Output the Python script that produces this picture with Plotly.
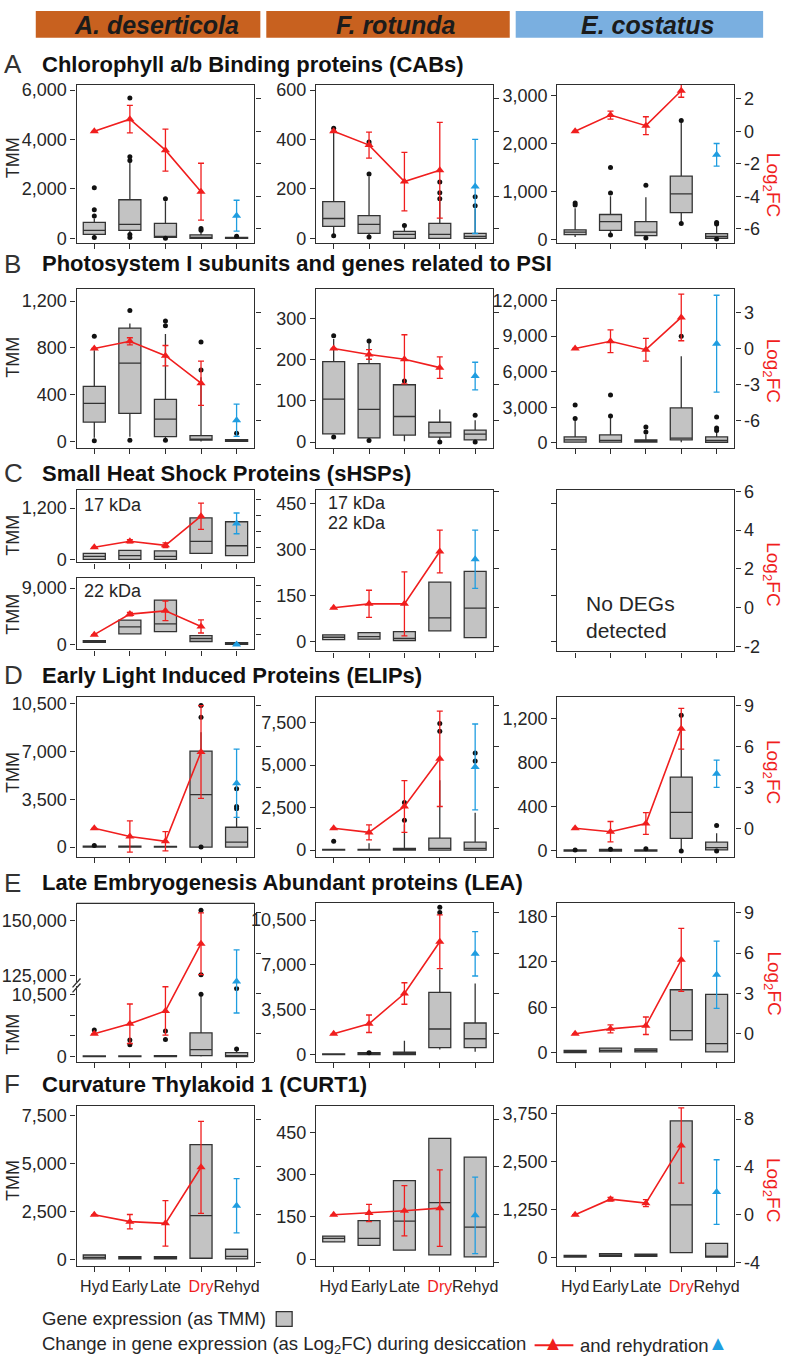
import plotly.graph_objects as go

# ---------------------------------------------------------------- data
CATEGORIES = ["Hyd", "Early", "Late", "Dry", "Rehyd"]
SPECIES = ["A. deserticola", "F. rotunda", "E. costatus"]
XPOS = [0, 1, 2, 3, 4]

# box stats per stage: [q1, median, q3, lower whisker, upper whisker]
# outliers: [[stage index...], [TMM...]]
# log2FC: Hyd, Early, Late, Dry (desiccation) and Rehyd (rehydration); err = half error bar

# A  Chlorophyll a/b binding proteins
cab_ad_box = [[160, 320, 640, 60, 800], [320, 560, 1560, 100, 3100], [40, 80, 600, 0, 1500], [0, 40, 140, 0, 300], [0, 20, 40, 0, 40]]
cab_ad_out = [[0, 0, 0, 0, 1, 1, 1, 1, 1, 2, 2, 3, 3, 4], [900, 1150, 2050, 30, 3150, 3300, 5680, 150, 30, 1600, 0, 400, 330, 80]]
cab_ad_fc = [0, 0.75, -1.16, -3.72, -5.2]
cab_ad_err = [0, 0.85, 1.3, 1.75, 0.95]

cab_fr_box = [[48, 80, 148, 15, 430], [20, 56, 92, 8, 250], [0, 16, 28, 0, 45], [0, 16, 60, 0, 150], [0, 8, 20, 0, 120]]
cab_fr_out = [[0, 0, 1, 1, 1, 1, 2, 3, 3, 3, 4, 4], [445, 10, 260, 390, 380, 5, 52, 228, 184, 160, 168, 132]]
cab_fr_fc = [0, -0.85, -3.1, -2.4, -3.4]
cab_fr_err = [0, 0.8, 1.8, 2.95, 2.9]

cab_ec_box = [[100, 150, 200, 50, 650], [190, 370, 520, 100, 900], [80, 150, 370, 20, 880], [560, 950, 1320, 340, 2450], [20, 60, 120, 0, 280]]
cab_ec_out = [[0, 0, 1, 1, 1, 2, 2, 3, 3, 4, 4, 4], [760, 720, 970, 1500, 90, 1130, 30, 2480, 330, 350, 320, 10]]
cab_ec_fc = [0, 1.0, 0.35, 2.5, -1.45]
cab_ec_err = [0, 0.25, 0.55, 0.4, 0.7]

# B  Photosystem I
psi_ad_box = [[165, 326, 470, 30, 780], [240, 670, 970, 40, 1010], [40, 190, 360, 10, 920], [10, 20, 50, 0, 550], [0, 8, 15, 0, 15]]
psi_ad_out = [[0, 0, 1, 1, 2, 2, 2, 3, 3, 4], [900, 5, 1120, 10, 1030, 990, 10, 850, 610, 70]]
psi_ad_fc = [0, 0.6, -0.6, -2.9, -6.0]
psi_ad_err = [0, 0.3, 0.85, 1.85, 1.35]

psi_fr_box = [[20, 104, 195, 20, 250], [10, 79, 190, 5, 245], [17, 62, 139, 2, 145], [12, 22, 48, 0, 79], [5, 19, 29, 0, 53]]
psi_fr_out = [[0, 0, 1, 1, 2, 3, 4, 4], [258, 12, 245, 4, 148, 0, 65, 0]]
psi_fr_fc = [0, -0.5, -0.9, -1.6, -2.3]
psi_fr_err = [0, 0.4, 2.05, 0.9, 1.15]

psi_ec_box = [[60, 250, 500, 0, 1900], [60, 210, 670, 0, 2200], [60, 150, 250, 0, 700], [250, 400, 2940, 50, 7300], [50, 200, 500, 0, 1100]]
psi_ec_out = [[0, 0, 1, 1, 2, 2, 3, 4, 4, 4], [3200, 2050, 4030, 2270, 1340, 920, 8990, 2180, 1260, 1040]]
psi_ec_fc = [0, 0.6, -0.1, 2.6, 0.4]
psi_ec_err = [0, 0.95, 0.95, 1.95, 4.05]

# C  small heat shock proteins  (q1, median, q3)
hsp17_ad_box = [[0, 70, 140], [0, 90, 210], [0, 70, 200], [140, 420, 970], [90, 320, 880]]
hsp17_ad_fc = [0, 0.75, 0.25, 3.9, 3.0]
hsp17_ad_err = [0, 0.2, 0.3, 1.65, 1.3]

hsp22_ad_box = [[350, 470, 600], [1700, 2800, 3900], [2050, 3300, 7100], [470, 950, 1400], [0, 150, 300]]
hsp22_ad_fc = [0, 2.5, 2.9, 1.0, -1.2]
hsp22_ad_err = [0, 0.2, 1.2, 0.8, 0]

hsp_fr_box = [[6, 14, 22], [8, 16, 29], [3, 10, 32], [35, 77, 193], [13, 109, 228]]
hsp_fr_fc = [0, 0.2, 0.2, 2.9, 2.5]
hsp_fr_err = [0, 0.7, 1.65, 1.1, 1.5]

# D  early light induced proteins
elip_ad_box = [[0, 30, 60, 0, 60], [0, 30, 60, 0, 60], [0, 20, 50, 0, 50], [0, 3840, 7030, 0, 8400], [0, 360, 1450, 0, 2540]]
elip_ad_out = [[0, 3, 3, 3, 4, 4, 4], [120, 10360, 9500, 0, 4270, 2970, 2800]]
elip_ad_fc = [0, -0.6, -0.95, 5.6, 3.3]
elip_ad_err = [0, 1.15, 0.7, 3.4, 2.5]

elip_fr_box = [[0, 10, 40, 0, 40], [0, 10, 40, 0, 400], [0, 30, 100, 0, 1500], [0, 100, 700, 0, 4100], [0, 100, 460, 0, 2200]]
elip_fr_out = [[0, 2, 2, 3, 3, 4, 4], [520, 2800, 1750, 7440, 6980, 5700, 5230]]
elip_fr_fc = [0, -0.3, 1.6, 5.1, 4.5]
elip_fr_err = [0, 0.55, 1.9, 3.5, 3.15]

elip_ec_box = [[0, 5, 10, 0, 10], [0, 5, 15, 0, 15], [0, 5, 10, 0, 10], [115, 350, 670, 0, 1220], [10, 30, 80, 0, 160]]
elip_ec_out = [[0, 1, 2, 3, 3, 4, 4], [10, 15, 20, 1230, 0, 230, 0]]
elip_ec_fc = [0, -0.25, 0.35, 7.3, 4.0]
elip_ec_err = [0, 0.75, 0.8, 1.5, 1.0]

# E  late embryogenesis abundant proteins
lea_ad_box = [[0, 30, 100, 0, 100], [0, 30, 100, 0, 100], [0, 50, 150, 0, 150], [170, 1170, 4000, 0, 10500], [0, 170, 670, 0, 1000]]
lea_ad_out = [[0, 1, 1, 2, 2, 3, 4, 4], [4500, 2800, 2000, 4300, 2900, 10500, 1300, 11500]]
lea_ad_out_high = [[3, 3], [154500, 125400]]
lea_ad_fc = [0, 0.75, 1.7, 6.7, 3.9]
lea_ad_err = [0, 1.47, 1.8, 2.3, 2.35]

lea_fr_box = [[0, 20, 60, 0, 60], [0, 60, 150, 0, 150], [0, 100, 200, 0, 1080], [540, 2000, 4860, 390, 6640], [540, 1240, 2470, 230, 5560]]
lea_fr_out = [[1, 3, 3], [150, 11500, 11100]]
lea_fr_fc = [0, 0.75, 3.0, 6.85, 5.95]
lea_fr_err = [0, 0.65, 0.8, 2.0, 1.65]

lea_ec_box = [[0, 1, 3], [1, 3, 6], [1, 3, 5], [17, 29, 83], [1, 12, 77]]
lea_ec_fc = [0, 0.37, 0.6, 5.5, 4.4]
lea_ec_err = [0, 0.3, 0.65, 2.35, 2.5]

# F  curvature thylakoid 1
curt_ad_box = [[20, 100, 220], [20, 70, 130], [20, 70, 130], [50, 2280, 6000], [20, 150, 520]]
curt_ad_fc = [0, -0.58, -0.72, 3.97, 0.75]
curt_ad_err = [0, 0.6, 1.9, 3.85, 2.27]

curt_fr_box = [[61, 74, 82], [49, 74, 137], [32, 135, 279], [15, 201, 430], [8, 114, 363]]
curt_fr_fc = [0, 0.15, 0.33, 0.55, -0.05]
curt_fr_err = [0, 0.72, 2.1, 3.2, 3.2]

curt_ec_box = [[5, 25, 50], [20, 50, 90], [20, 45, 80], [120, 1370, 3566], [0, 30, 360]]
curt_ec_fc = [0, 1.3, 0.97, 5.8, 1.9]
curt_ec_err = [0, 0.15, 0.3, 3.15, 2.7]

# ---------------------------------------------------------------- style
W, H = 788, 1366
FONT = "Liberation Sans, Arial, Helvetica, sans-serif"
RED = "#f01e1e"
BLUE = "#1f9de0"
AX = "#2e2e2e"
TXT = "#262626"
BOXFILL = "#c3c3c3"
ORANGE = "#c8611f"
SKY = "#7aafe0"

COLS = [(77, 256), (318, 496), (561, 739)]


def fx(p):
    return p / W


def fy(p):
    return 1 - p / H


fig = go.Figure()
layout = {}
counter = {"x": 0, "y": 0}


def new_axis(kind):
    counter[kind] += 1
    k = counter[kind]
    s = "" if k == 1 else str(k)
    return kind + s, kind + "axis" + s


def fmt(v):
    return f"{v:,}" if v >= 0 else "-" + f"{-v:,}"


XLABELS = ["Hyd", "Early", "Late", f"<span style='color:{RED}'>Dry</span>", "Rehyd"]


def xaxis_style(col, anchor, labels, mirror=True):
    x0, x1 = COLS[col]
    return dict(domain=[fx(x0), fx(x1)], range=[-0.5, 4.5], anchor=anchor,
                tickmode="array", tickvals=XPOS, ticktext=XLABELS, showticklabels=labels,
                tickangle=0, ticks="outside", ticklen=5, tickwidth=1.2, tickcolor=AX,
                showline=True, linewidth=1.4, linecolor=AX, mirror=mirror,
                showgrid=False, zeroline=False,
                tickfont=dict(family=FONT, size=16, color=TXT))


def yaxis_style(top, bot, rng, tickvals, labels, anchor):
    d = dict(domain=[fy(bot), fy(top)], range=rng, anchor=anchor,
             tickmode="array", tickvals=tickvals, ticktext=[fmt(v) for v in tickvals],
             showticklabels=labels, ticks="outside", ticklen=5, tickwidth=1.2, tickcolor=AX,
             showline=True, linewidth=1.4, linecolor=AX, showgrid=False, zeroline=False,
             tickfont=dict(family=FONT, size=18, color=TXT))
    return d


def panel(col, top, bot, lrange, lticks, rrange, rticks, xlabels=False, llabels=True):
    xref, xkey = new_axis("x")
    yref, ykey = new_axis("y")
    rref, rkey = new_axis("y")
    layout[xkey] = xaxis_style(col, yref, xlabels)
    layout[ykey] = yaxis_style(top, bot, lrange, lticks, llabels, xref)
    r = yaxis_style(top, bot, rrange, rticks, col == 2, xref)
    r.pop("domain")
    r.update(overlaying=yref, side="right")
    layout[rkey] = r
    return xref, yref, rref


def add_boxes(xref, yref, box):
    q1 = [b[0] for b in box]
    med = [b[1] for b in box]
    q3 = [b[2] for b in box]
    lo = [b[3] if len(b) > 3 else b[0] for b in box]
    hi = [b[4] if len(b) > 3 else b[2] for b in box]
    fig.add_trace(go.Box(x=XPOS, q1=q1, median=med, q3=q3, lowerfence=lo, upperfence=hi,
                         orientation="v", width=0.62, whiskerwidth=0, boxpoints=False,
                         fillcolor=BOXFILL, line=dict(color="#333333", width=1.3),
                         xaxis=xref, yaxis=yref, hoverinfo="skip"))


def add_outliers(xref, yref, out):
    fig.add_trace(go.Scatter(x=out[0], y=out[1], mode="markers",
                             marker=dict(color="#111111", size=5),
                             xaxis=xref, yaxis=yref, hoverinfo="skip"))


def add_fc(xref, rref, fc, err):
    fig.add_trace(go.Scatter(x=XPOS[:4], y=fc[:4], mode="lines+markers",
                             line=dict(color=RED, width=1.6),
                             marker=dict(symbol="triangle-up", size=8, color=RED),
                             error_y=dict(type="data", array=err[:4], color=RED, thickness=1.3, width=3),
                             xaxis=xref, yaxis=rref, hoverinfo="skip"))
    fig.add_trace(go.Scatter(x=XPOS[4:], y=fc[4:], mode="markers",
                             marker=dict(symbol="triangle-up", size=8, color=BLUE),
                             error_y=dict(type="data", array=err[4:], color=BLUE, thickness=1.3, width=3),
                             xaxis=xref, yaxis=rref, hoverinfo="skip"))


def full(col, top, bot, lrange, lticks, rrange, rticks, box, fc, err, out=None, xlabels=False):
    xr, yr, rr = panel(col, top, bot, lrange, lticks, rrange, rticks, xlabels)
    add_boxes(xr, yr, box)
    if out is not None:
        add_outliers(xr, yr, out)
    add_fc(xr, rr, fc, err)


# ---------------------------------------------------------------- row A
A_T, A_B = 77, 237
A_R = [-6.9, 2.85]
A_RT = [-6, -4, -2, 0, 2]
full(0, A_T, A_B, [-200, 6200], [0, 2000, 4000, 6000], A_R, A_RT, cab_ad_box, cab_ad_fc, cab_ad_err, cab_ad_out)
full(1, A_T, A_B, [-20, 620], [0, 200, 400, 600], A_R, A_RT, cab_fr_box, cab_fr_fc, cab_fr_err, cab_fr_out)
full(2, A_T, A_B, [-80, 3220], [0, 1000, 2000, 3000], A_R, A_RT, cab_ec_box, cab_ec_fc, cab_ec_err, cab_ec_out)

# ---------------------------------------------------------------- row B
B_T, B_B = 283, 444
B_R = [-8.3, 5.0]
B_RT = [-6, -3, 0, 3]
full(0, B_T, B_B, [-55, 1307], [0, 400, 800, 1200], B_R, B_RT, psi_ad_box, psi_ad_fc, psi_ad_err, psi_ad_out)
full(1, B_T, B_B, [-14, 372], [0, 100, 200, 300], B_R, B_RT, psi_fr_box, psi_fr_fc, psi_fr_err, psi_fr_out)
full(2, B_T, B_B, [-420, 13000], [0, 3000, 6000, 9000, 12000], B_R, B_RT, psi_ec_box, psi_ec_fc, psi_ec_err, psi_ec_out)

# ---------------------------------------------------------------- row C
C_T, C_B = 487, 650
C_R = [-2.25, 6.05]
C_RT = [-2, 0, 2, 4, 6]
full(0, 487, 560, [-70, 1615], [0, 1200], [-1.9, 7.15], [-2, 0, 2, 4, 6], hsp17_ad_box, hsp17_ad_fc, hsp17_ad_err)
full(0, 576, 648, [-790, 10580], [0, 9000], [-1.8, 6.87], [0, 2, 4, 6], hsp22_ad_box, hsp22_ad_fc, hsp22_ad_err)
full(1, C_T, C_B, [-32, 492], [0, 150, 300, 450], C_R, C_RT, hsp_fr_box, hsp_fr_fc, hsp_fr_err)
xr, yr, rr = panel(2, C_T, C_B, [-32, 492], [0, 150, 300, 450], C_R, C_RT, False, False)
fig.add_trace(go.Scatter(x=[], y=[], xaxis=xr, yaxis=yr))
fig.add_trace(go.Scatter(x=[], y=[], xaxis=xr, yaxis=rr))

# ---------------------------------------------------------------- row D
D_T, D_B = 696, 858
D_R = [-2.1, 9.64]
D_RT = [0, 3, 6, 9]
full(0, D_T, D_B, [-725, 11000], [0, 3500, 7000, 10500], D_R, D_RT, elip_ad_box, elip_ad_fc, elip_ad_err, elip_ad_out)
full(1, D_T, D_B, [-407, 9010], [0, 2500, 5000, 7500], D_R, D_RT, elip_fr_box, elip_fr_fc, elip_fr_err, elip_fr_out)
full(2, D_T, D_B, [-54, 1397], [0, 400, 800, 1200], D_R, D_RT, elip_ec_box, elip_ec_fc, elip_ec_err, elip_ec_out)

# ---------------------------------------------------------------- row E
E_T, E_B = 905, 1065
E_R = [-2.06, 9.7]
E_RT = [0, 3, 6, 9]
# broken axis panel (A. deserticola)
xr, xk = new_axis("x")
ylo, ylok = new_axis("y")
yup, yupk = new_axis("y")
yrr, yrk = new_axis("y")
layout[xk] = xaxis_style(0, ylo, False, mirror=False)
lo_ax = yaxis_style(989, E_B, [-833, 11833], [0, 10500], True, xr)
lo_ax["minor"] = dict(tickmode="array", tickvals=[3500, 7000], ticks="outside", ticklen=5,
                      tickwidth=1.2, tickcolor=AX, showgrid=False)
layout[ylok] = lo_ax
layout[yupk] = yaxis_style(E_T, 985, [121875, 157590], [125000, 150000], True, xr)
r_ax = yaxis_style(E_T, E_B, E_R, E_RT, False, xr)
r_ax["side"] = "right"
layout[yrk] = r_ax
add_boxes(xr, ylo, lea_ad_box)
add_outliers(xr, ylo, lea_ad_out)
add_outliers(xr, yup, lea_ad_out_high)
add_fc(xr, yrr, lea_ad_fc, lea_ad_err)

full(1, E_T, E_B, [-540, 11810], [0, 3500, 7000, 10500], E_R, E_RT, lea_fr_box, lea_fr_fc, lea_fr_err, lea_fr_out)
full(2, E_T, E_B, [-11.7, 197], [0, 60, 120, 180], E_R, E_RT, lea_ec_box, lea_ec_fc, lea_ec_err)

# ---------------------------------------------------------------- row F
F_T, F_B = 1110, 1272
F_R = [-4.3, 9.1]
F_RT = [-4, 0, 4, 8]
full(0, F_T, F_B, [-362, 8020], [0, 2500, 5000, 7500], F_R, F_RT, curt_ad_box, curt_ad_fc, curt_ad_err, xlabels=True)
full(1, F_T, F_B, [-25, 545], [0, 150, 300, 450], F_R, F_RT, curt_fr_box, curt_fr_fc, curt_fr_err, xlabels=True)
full(2, F_T, F_B, [-233, 3957], [0, 1250, 2500, 3750], F_R, F_RT, curt_ec_box, curt_ec_fc, curt_ec_err, xlabels=True)

# ---------------------------------------------------------------- decorations
shapes = []
annotations = []


def ann(x, y, text, size=18, color=TXT, xanchor="left", yanchor="middle", angle=0, align="left"):
    annotations.append(dict(x=fx(x), y=fy(y), xref="paper", yref="paper", text=text, showarrow=False,
                            xanchor=xanchor, yanchor=yanchor, textangle=angle, align=align,
                            font=dict(family=FONT, size=size, color=color)))


# species header bars
bars = [(36, 262, ORANGE), (268, 513, ORANGE), (519, 768, SKY)]
for (b0, b1, c), name in zip(bars, SPECIES):
    shapes.append(dict(type="rect", xref="paper", yref="paper", x0=fx(b0), x1=fx(b1), y0=fy(29), y1=fy(2),
                       fillcolor=c, line=dict(width=0), layer="below"))
    ann((b0 + b1) / 2 + 8, 16, f"<b><i>{name}</i></b>", size=25, color="#1b1b1b", xanchor="center")

# row titles
titles = [("A", "Chlorophyll a/b Binding proteins (CABs)", 56),
          ("B", "Photosystem I subunits and genes related to PSI", 258),
          ("C", "Small Heat Shock Proteins (sHSPs)", 470),
          ("D", "Early Light Induced Proteins (ELIPs)", 674),
          ("E", "Late Embryogenesis Abundant proteins (LEA)", 884),
          ("F", "Curvature Thylakoid 1 (CURT1)", 1088)]
for letter, title, y in titles:
    ann(2, y, letter, size=26, color="#333333")
    ann(40, y, f"<b>{title}</b>", size=22, color="#111111")

# axis titles
for y in [150, 352, 532, 612, 772, 1037, 1185]:
    ann(13, y, "TMM", size=18, xanchor="center", angle=-90)
for y in [178, 366, 572, 772, 986, 1195]:
    ann(777, y, "Log<sub>2</sub>FC", size=19, color=RED, xanchor="center", angle=90)

# in-panel labels
ann(83, 502, "17 kDa", size=18)
ann(83, 589, "22 kDa", size=18)
ann(328, 500, "17 kDa", size=18)
ann(328, 520, "22 kDa", size=18)
ann(588, 615, "No DEGs<br>detected", size=21)

# broken-axis frame top and break marks (E, A. deserticola)
shapes.append(dict(type="line", xref="paper", yref="paper", x0=fx(77), x1=fx(256), y0=fy(905), y1=fy(905),
                   line=dict(color=AX, width=1.4)))
for dy in (0, 5):
    shapes.append(dict(type="line", xref="paper", yref="paper", x0=fx(73), x1=fx(81),
                       y0=fy(990 + dy), y1=fy(981 + dy), line=dict(color=AX, width=1.3)))

# legend
ann(40, 1325, "Gene expression (as TMM)", size=18.5)
shapes.append(dict(type="rect", xref="paper", yref="paper", x0=fx(278), x1=fx(294), y0=fy(1333), y1=fy(1318),
                   fillcolor=BOXFILL, line=dict(color="#333333", width=1.3)))
ann(40, 1352, "Change in gene expression (as Log<sub>2</sub>FC) during desiccation", size=18.5)
shapes.append(dict(type="line", xref="paper", yref="paper", x0=fx(538), x1=fx(577), y0=fy(1352), y1=fy(1352),
                   line=dict(color=RED, width=2)))
ann(557, 1350, "▲", size=20, color=RED, xanchor="center")
ann(582, 1352, "and rehydration", size=18.5)
ann(723, 1350, "▲", size=20, color=BLUE, xanchor="center")

fig.update_layout(**layout)
fig.update_layout(width=W, height=H, margin=dict(l=0, r=0, t=0, b=0), autosize=False,
                  paper_bgcolor="white", plot_bgcolor="rgba(0,0,0,0)", showlegend=False,
                  shapes=shapes, annotations=annotations, font=dict(family=FONT, color=TXT))
fig.write_html("out.html", config={"displayModeBar": False},
               post_script="document.body.style.margin='0';document.body.style.overflow='hidden';")
